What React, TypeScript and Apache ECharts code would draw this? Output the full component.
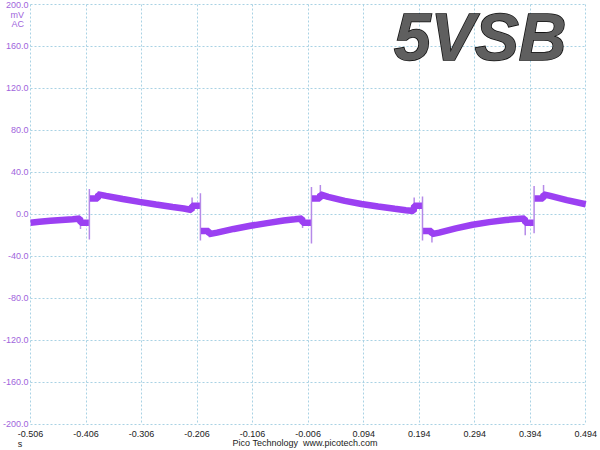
import React, { useEffect, useRef } from "react";
import * as echarts from "echarts";

// Axis definition
const T_START = -0.506;
const T_END = 0.494;
const X_STEP = 0.1;
const Y_MIN = -200;
const Y_MAX = 200;
const Y_STEP = 40;

// Main trace (time in s, value in mV); null marks a break in the trace
const TRACE_T = [
  -0.506, -0.49, -0.47, -0.45, -0.43, -0.417, -0.416, -0.401, -0.4,
  -0.399, -0.385, -0.384, -0.37, -0.34, -0.31, -0.28, -0.25, -0.23, -0.216, -0.215, -0.201, -0.2,
  -0.199, -0.185, -0.184, -0.17, -0.14, -0.11, -0.08, -0.05, -0.03, -0.017, -0.016, -0.001, 0.0,
  0.001, 0.015, 0.016, 0.03, 0.06, 0.09, 0.12, 0.15, 0.17, 0.184, 0.185, 0.199, 0.2,
  0.201, 0.216, 0.217, 0.23, 0.26, 0.29, 0.32, 0.35, 0.37, 0.384, 0.385, 0.4, 0.401,
  0.402, 0.417, 0.418, 0.43, 0.46, 0.494,
];
const TRACE_MV = [
  -8, -7.2, -6.3, -5.5, -4.7, -4, -8, -8, null,
  15, 15, 19, 17.5, 14.5, 11.8, 9.3, 7, 5.5, 4, 8, 8, null,
  -16, -16, -19, -17.5, -14, -11, -8.5, -6, -4.8, -4, -8, -8, null,
  15, 15, 19, 16.5, 12.8, 9.8, 7.4, 5.2, 3.8, 3, 8, 8, null,
  -16, -16, -19, -17.5, -13.5, -10, -7.5, -5.5, -4.6, -4, -8, -8, null,
  15, 15, 19, 17.5, 13.5, 9.5,
];

// Thin switching spikes
const SPIKE_T = [-0.4, -0.2, 0.0, 0.2, 0.401, -0.416, -0.215, -0.016, 0.185, 0.385, -0.384, -0.184, 0.016, 0.217, 0.418];
const SPIKE_HI = [24, 20, 26, 17, 27, -4, 16, -4, 16, -4, 22, -16, 28, -16, 28];
const SPIKE_LO = [-24, -25, -28, -25, -18, -14, 4, -13, 3, -20, 15, -22, 15, -27, 15];

const TITLE = "5VSB";
const Y_UNIT = ["mV", "AC"];
const X_UNIT = "s";
const FOOTER = "Pico Technology  www.picotech.com";

const LABEL_FONT = '"Liberation Sans", Arial, sans-serif';
const PURPLE_TEXT = "#a064dc";
const GRID_COLOR = "#a9d2e4";

export default function App() {
  const ref = useRef<HTMLDivElement>(null);

  useEffect(() => {
    if (!ref.current) return;
    const chart = echarts.init(ref.current, undefined, { renderer: "svg" });

    const traceData = TRACE_T.map((t, i) => [t - T_START, TRACE_MV[i] == null ? "-" : TRACE_MV[i]]);
    const spikeData: any[] = [];
    SPIKE_T.forEach((t, i) => {
      spikeData.push([t - T_START, SPIKE_HI[i]]);
      spikeData.push([t - T_START, SPIKE_LO[i]]);
      spikeData.push([t - T_START, "-"]);
    });

    const splitLine = {
      show: true,
      showMinLine: true,
      showMaxLine: true,
      lineStyle: { color: GRID_COLOR, width: 1, type: [2, 2] as any },
    };

    chart.setOption({
      animation: false,
      backgroundColor: "#ffffff",
      grid: { left: 26, right: 13, top: 4, bottom: 26, containLabel: false },
      xAxis: {
        type: "value",
        min: 0,
        max: T_END - T_START,
        interval: X_STEP,
        axisLine: { show: false },
        axisTick: { show: false },
        splitLine,
        axisLabel: {
          showMinLabel: true,
          showMaxLabel: true,
          margin: 5,
          color: "#222222",
          fontSize: 9,
          fontFamily: LABEL_FONT,
          formatter: (v: number) => (v + T_START).toFixed(3),
        },
      },
      yAxis: {
        type: "value",
        min: Y_MIN,
        max: Y_MAX,
        interval: Y_STEP,
        axisLine: { show: false },
        axisTick: { show: false },
        splitLine,
        axisLabel: {
          showMinLabel: true,
          showMaxLabel: true,
          margin: 2,
          color: PURPLE_TEXT,
          fontSize: 9,
          fontFamily: LABEL_FONT,
          formatter: (v: number) => v.toFixed(1),
        },
      },
      series: [
        {
          type: "line",
          data: spikeData,
          showSymbol: false,
          symbol: "none",
          connectNulls: false,
          lineStyle: { color: "#b58ae8", width: 1.5 },
          z: 2,
        },
        {
          type: "line",
          data: traceData,
          showSymbol: false,
          symbol: "none",
          connectNulls: false,
          lineStyle: { color: "#9b40f2", width: 6.5, join: "bevel" as any },
          z: 3,
        },
      ],
      graphic: [
        {
          type: "text",
          x: 24,
          y: 15,
          style: { text: Y_UNIT[0], fill: PURPLE_TEXT, fontSize: 9, fontFamily: LABEL_FONT, align: "right", verticalAlign: "middle" },
        },
        {
          type: "text",
          x: 24,
          y: 24,
          style: { text: Y_UNIT[1], fill: PURPLE_TEXT, fontSize: 9, fontFamily: LABEL_FONT, align: "right", verticalAlign: "middle" },
        },
        {
          type: "text",
          x: 20,
          y: 444,
          style: { text: X_UNIT, fill: "#222222", fontSize: 9, fontFamily: LABEL_FONT, align: "center", verticalAlign: "middle" },
        },
        {
          type: "text",
          x: 305,
          y: 443,
          style: { text: FOOTER, fill: "#222222", fontSize: 9, fontFamily: LABEL_FONT, align: "center", verticalAlign: "middle" },
        },
        {
          type: "text",
          x: 394,
          y: 37,
          z: 11,
          style: {
            text: TITLE,
            fill: "#5f5f5f",
            stroke: "#111111",
            lineWidth: 1.6,
            shadowColor: "rgba(0,0,0,0.95)",
            shadowBlur: 0.5,
            shadowOffsetX: 2,
            shadowOffsetY: 2,
            fontSize: 66,
            fontWeight: "bold",
            fontStyle: "italic",
            fontFamily: LABEL_FONT,
            align: "left",
            verticalAlign: "middle",
          },
        },
      ],
    });

    return () => chart.dispose();
  }, []);

  return (
    <div
      ref={ref}
      style={{ position: "fixed", left: 0, top: 0, width: 600, height: 450, background: "#ffffff" }}
    />
  );
}
